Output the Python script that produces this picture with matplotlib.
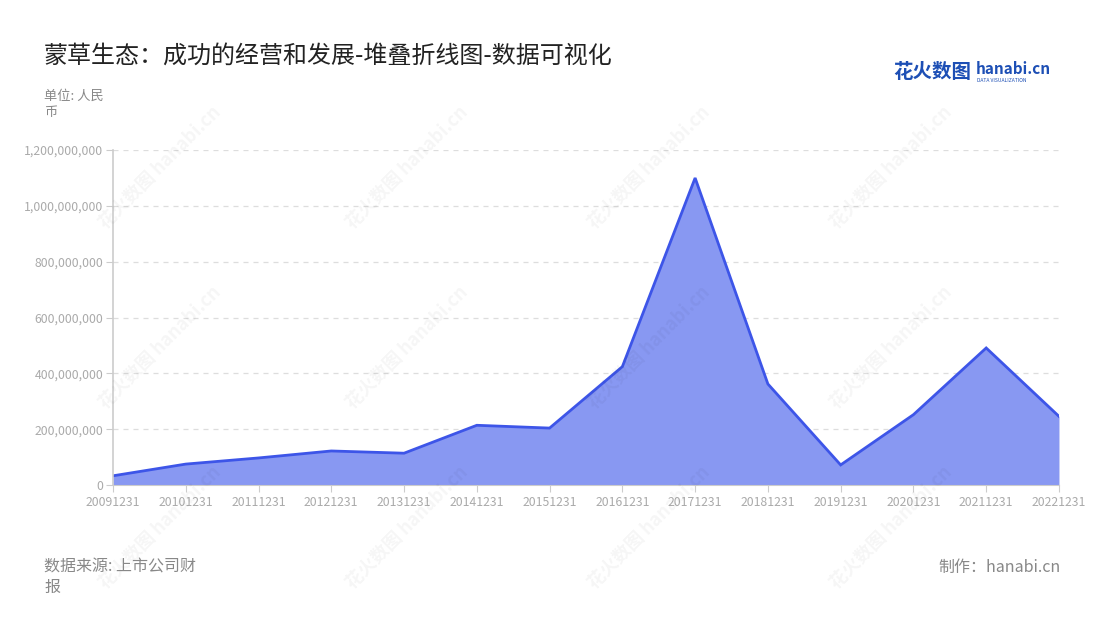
import matplotlib.pyplot as plt
from matplotlib.ticker import FuncFormatter

plt.rcParams['font.family'] = ['Noto Sans CJK SC', 'DejaVu Sans']

dates = ['20091231', '20101231', '20111231', '20121231', '20131231', '20141231',
         '20151231', '20161231', '20171231', '20181231', '20191231', '20201231',
         '20211231', '20221231']
values = [33e6, 75e6, 97e6, 122e6, 114e6, 214e6, 204e6, 424e6, 1100e6,
          362e6, 72e6, 252e6, 491e6, 246e6]

fig = plt.figure(figsize=(11, 6.2), dpi=100)
ax = fig.add_axes([0.1027, 0.2177, 0.86, 0.5403])

x = list(range(len(dates)))
ax.fill_between(x, values, 0, color='#8898f2', linewidth=0)
ax.plot(x, values, color='#3d55e8', linewidth=2, solid_joinstyle='miter')

ax.set_xlim(0, len(dates) - 1)
ax.set_ylim(0, 1.2e9)
ax.set_yticks([0, 2e8, 4e8, 6e8, 8e8, 10e8, 12e8])
ax.yaxis.set_major_formatter(FuncFormatter(lambda v, p: f'{int(v):,}'))
ax.set_xticks(x)
ax.set_xticklabels(dates)

ax.grid(axis='y', linestyle=(0, (4, 4)), color='#dddddd', linewidth=0.9)
ax.set_axisbelow(True)
for s in ['top', 'right']:
    ax.spines[s].set_visible(False)
ax.spines['left'].set_color('#cccccc')
ax.spines['left'].set_linewidth(1.2)
ax.spines['bottom'].set_color('#cccccc')
ax.tick_params(axis='y', colors='#aaaaaa', labelsize=8.8, length=5, color='#cccccc', pad=2)
ax.tick_params(axis='x', colors='#aaaaaa', labelsize=8.8, length=5, color='#cccccc', pad=3)
for lab in ax.get_yticklabels() + ax.get_xticklabels():
    lab.set_color('#aaaaaa')

# watermarks
for wx in [0.145, 0.37, 0.59, 0.81]:
    for wy in [0.73, 0.44, 0.15]:
        fig.text(wx, wy, '花火数图 hanabi.cn', rotation=45, fontsize=13,
                 color='#000000', alpha=0.04, ha='center', va='center',
                 fontweight='bold')

fig.text(0.04, 0.911, '蒙草生态：成功的经营和发展-堆叠折线图-数据可视化', fontsize=17.3,
         color='#222222', va='center')
fig.text(0.04, 0.831, '单位: 人民\n币', fontsize=9.5, color='#888888', va='center',
         linespacing=1.3)
fig.text(0.04, 0.069, '数据来源: 上市公司财\n报', fontsize=11.5, color='#888888',
         va='center', linespacing=1.25)
fig.text(0.964, 0.085, '制作：hanabi.cn', fontsize=11.5, color='#888888',
         ha='right', va='center')

# logo
fig.text(0.812, 0.883, '花火数图', fontsize=14, color='#1d4fb5', fontweight='bold',
         va='center')
fig.text(0.887, 0.888, 'hanabi.cn', fontsize=11, color='#1d4fb5', fontweight='bold',
         va='center')
fig.text(0.888, 0.870, 'DATA VISUALIZATION', fontsize=3.6, color='#1d4fb5',
         va='center')

fig.savefig('out.png', dpi=100)
